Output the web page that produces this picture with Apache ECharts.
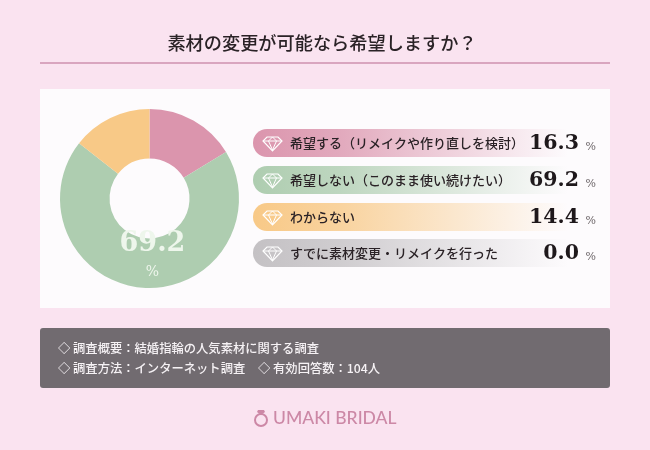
<!DOCTYPE html>
<html><head><meta charset="utf-8">
<style>html,body{margin:0;padding:0;background:#fae3f0}#c{width:650px;height:450px}</style>
<script src="https://cdn.jsdelivr.net/npm/echarts@6/dist/echarts.min.js"></script>
</head><body><div id="c"></div>
<script>
const titleText = '素材の変更が可能なら希望しますか？';
const categories = ['希望する（リメイクや作り直しを検討）','希望しない（このまま使い続けたい）','わからない','すでに素材変更・リメイクを行った'];
const values = [16.3, 69.2, 14.4, 0.0];
const colors = ['#db95ad','#aecdb0','#f8c987','#c4c1c4'];
const footerLines = ['◇ 調査概要：結婚指輪の人気素材に関する調査','◇ 調査方法：インターネット調査'];
const footerExtra = '◇ 有効回答数：104人';
const brand = 'UMAKI BRIDAL';

const JP = '"Noto Sans CJK JP"';
const NUM = '"DejaVu Serif"';
const rowTops = [129,166,203,239];

const graphic = [
  {type:'rect',silent:true,z:-10,shape:{x:0,y:0,width:650,height:450},style:{fill:'#fae3f0'}},
  {type:'text',x:322,y:43,style:{text:titleText,font:'500 18.2px '+JP,fill:'#2a2226',align:'center',verticalAlign:'middle'}},
  {type:'rect',shape:{x:40,y:62,width:570,height:2},style:{fill:'#d9a5bf'}},
  {type:'rect',z:-5,shape:{x:40,y:89,width:570,height:219},style:{fill:'#fdfbfd'}},
  {type:'rect',shape:{x:40,y:328,width:570,height:60,r:3},style:{fill:'#716b70'}},
  {type:'text',x:58,y:348,style:{text:footerLines[0],font:'500 12.3px '+JP,fill:'#f6f2f5',verticalAlign:'middle'}},
  {type:'text',x:58,y:368,style:{text:footerLines[1],font:'500 12.3px '+JP,fill:'#f6f2f5',verticalAlign:'middle'}},
  {type:'text',x:258,y:368,style:{text:footerExtra,font:'500 12.3px '+JP,fill:'#f6f2f5',verticalAlign:'middle'}},
  {type:'circle',shape:{cx:261,cy:420,r:6},style:{fill:'none',stroke:'#cc88a6',lineWidth:2}},
  {type:'polygon',shape:{points:[[258,410],[264,410],[265,412],[261,415],[257,412]]},style:{fill:'#cc88a6'}},
  {type:'text',x:273,y:418,style:{text:brand,font:'500 17.5px "Lato"',fill:'#cc88a6',verticalAlign:'middle'}}
];
categories.forEach((name,i)=>{
  const y = rowTops[i];
  graphic.push({type:'rect',shape:{x:253,y:y,width:350,height:28,r:14},style:{
    fill:new echarts.graphic.LinearGradient(0,0,1,0,[
      {offset:0,color:colors[i]},{offset:0.25,color:colors[i]+'cc'},{offset:0.9,color:colors[i]+'00'},{offset:1,color:colors[i]+'00'}])}});
  const cy = y+14, x0 = 263;
  graphic.push({type:'polygon',shape:{points:[[x0+4,cy-6],[x0+15,cy-6],[x0+19,cy-2],[x0+9.5,cy+8],[x0,cy-2]]},style:{fill:'none',stroke:'#fff',lineWidth:1.2}});
  graphic.push({type:'polyline',shape:{points:[[x0,cy-2],[x0+19,cy-2]]},style:{fill:'none',stroke:'#fff',lineWidth:1}});
  graphic.push({type:'polyline',shape:{points:[[x0+5.5,cy-2],[x0+9.5,cy+7],[x0+13.5,cy-2],[x0+9.5,cy-6],[x0+5.5,cy-2]]},style:{fill:'none',stroke:'#fff',lineWidth:1}});
  graphic.push({type:'text',x:290,y:cy,style:{text:name,font:'500 13px '+JP,fill:'#2a2226',verticalAlign:'middle'}});
  graphic.push({type:'text',x:579,y:cy+1,style:{text:values[i].toFixed(1),font:'bold 20.5px '+NUM,fill:'#1e181b',align:'right',verticalAlign:'middle'}});
  graphic.push({type:'text',x:596,y:cy+4,style:{text:'%',font:'11px '+NUM,fill:'#6d6669',align:'right',verticalAlign:'middle'}});
});

const chart = echarts.init(document.getElementById('c'),null,{renderer:'canvas'});
chart.setOption({
  animation:false,
  graphic:graphic,
  series:[{
    type:'pie',z:5,
    center:[149.5,198.5],
    radius:[40,89.5],
    startAngle:90,
    clockwise:true,
    silent:true,
    minShowLabelAngle:0,
    labelLine:{show:false},
    data:categories.map((name,i)=>({
      name:name,value:values[i],
      itemStyle:{color:colors[i]},
      label:i===1?{show:true,position:'inside',offset:[7,-10],
        formatter:p=>'{a|'+p.value.toFixed(1)+'}\n{b|%}',
        rich:{a:{fontFamily:'DejaVu Serif',fontWeight:'bold',fontSize:27,color:'#eef6ec',lineHeight:32,align:'center'},
              b:{fontFamily:'DejaVu Serif',fontSize:14,color:'#eef6ec',lineHeight:24,align:'center'}}}:{show:false}
    }))
  }]
});
</script></body></html>
